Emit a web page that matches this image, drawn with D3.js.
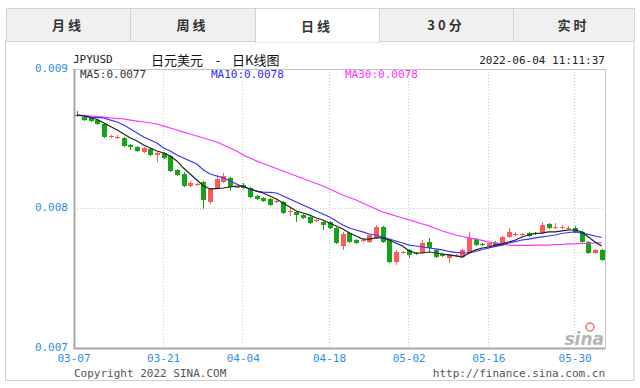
<!DOCTYPE html>
<html>
<head>
<meta charset="utf-8">
<script src="https://cdn.jsdelivr.net/npm/d3@7"></script>
<style>
body{margin:0;background:#fff;}
svg text{font-family:"DejaVu Sans Mono",monospace;}
</style>
</head>
<body>
<svg id="chart"></svg>
<script>

// tick labels
var dateLabels = ["03-07","03-21","04-04","04-18","05-02","05-16","05-30"]
var dateTickIdx = [0, 13, 25, 38, 50, 62, 75]
var priceTicks = [0.009, 0.008, 0.007]
var tabNames = ["月线","周线","日线","30分","实时"]

// daily candles, JPYUSD
var openP = [.008670,.008656,.008649,.008634,.008606,.008513,.008505,.008505,.008455,.008441,
.008405,.008427,.008384,.008398,.008376,.008276,.008247,.008161,.008168,.008190,
.008047,.008147,.008190,.008219,.008151,.008168,.008147,.008090,.008075,.008068,
.008047,.008047,.007975,.007975,.007953,.007939,.007910,.007903,.007903,.007860,
.007731,.007824,.007774,.007767,.007760,.007789,.007867,.007774,.007616,.007681,
.007703,.007681,.007681,.007760,.007703,.007674,.007645,.007660,.007652,.007681,
.007781,.007746,.007724,.007753,.007738,.007796,.007810,.007810,.007824,.007824,
.007824,.007889,.007860,.007860,.007853,.007860,.007832,.007760,.007681,.007703]

var highP = [.008699,.008663,.008656,.008642,.008613,.008527,.008527,.008513,.008462,.008448,
.008441,.008434,.008405,.008405,.008384,.008283,.008262,.008197,.008183,.008197,
.008147,.008240,.008254,.008226,.008161,.008183,.008154,.008097,.008082,.008075,
.008061,.008054,.008004,.007982,.007961,.007946,.007925,.007910,.007910,.007867,
.007832,.007832,.007781,.007781,.007817,.007882,.007875,.007781,.007703,.007695,
.007710,.007688,.007774,.007789,.007710,.007681,.007674,.007674,.007710,.007832,
.007789,.007753,.007760,.007767,.007803,.007860,.007832,.007824,.007832,.007832,
.007903,.007896,.007896,.007882,.007875,.007875,.007839,.007767,.007710,.007710]

var lowP = [.008656,.008627,.008620,.008599,.008505,.008505,.008498,.008441,.008419,.008405,
.008398,.008376,.008333,.008355,.008262,.008233,.008154,.008154,.008161,.007996,
.008032,.008140,.008183,.008125,.008147,.008140,.008075,.008061,.008047,.008018,
.008039,.007961,.007946,.007903,.007925,.007889,.007903,.007846,.007853,.007746,
.007703,.007753,.007746,.007760,.007753,.007781,.007753,.007609,.007595,.007674,
.007645,.007667,.007674,.007688,.007645,.007652,.007609,.007652,.007645,.007674,
.007731,.007731,.007717,.007724,.007731,.007789,.007803,.007803,.007796,.007810,
.007817,.007853,.007853,.007853,.007846,.007824,.007753,.007674,.007674,.007624]

var closeP = [.008663,.008634,.008627,.008606,.008513,.008520,.008513,.008448,.008441,.008412,
.008434,.008384,.008398,.008362,.008269,.008240,.008161,.008183,.008176,.008061,
.008140,.008211,.008233,.008154,.008154,.008147,.008082,.008068,.008054,.008025,
.008054,.007968,.007982,.007953,.007932,.007896,.007918,.007882,.007860,.007753,
.007817,.007760,.007753,.007774,.007810,.007867,.007760,.007616,.007688,.007688,
.007667,.007674,.007753,.007717,.007652,.007660,.007667,.007667,.007703,.007789,
.007738,.007738,.007753,.007731,.007796,.007832,.007817,.007817,.007803,.007817,
.007882,.007860,.007867,.007867,.007860,.007832,.007760,.007681,.007703,.007631]

// moving averages as shown on the chart
var ma5 = [.008670,.008663,.008652,.008638,.008613,.008588,.008563,.008534,.008505,.008484,
.008455,.008434,.008412,.008398,.008376,.008341,.008290,.008247,.008204,.008161,
.008140,.008143,.008147,.008154,.008161,.008161,.008140,.008125,.008111,.008090,
.008068,.008039,.008011,.007982,.007968,.007953,.007932,.007918,.007896,.007875,
.007853,.007824,.007803,.007781,.007781,.007789,.007789,.007774,.007753,.007731,
.007695,.007681,.007681,.007688,.007681,.007674,.007667,.007660,.007652,.007681,
.007703,.007717,.007724,.007738,.007746,.007760,.007774,.007796,.007810,.007821,
.007824,.007832,.007832,.007839,.007846,.007846,.007832,.007796,.007760,.007731]

var ma10 = [.008670,.008663,.008656,.008652,.008649,.008634,.008620,.008599,.008570,.008541,
.008513,.008491,.008470,.008434,.008412,.008384,.008362,.008341,.008319,.008276,
.008247,.008233,.008219,.008197,.008176,.008154,.008140,.008125,.008118,.008115,
.008111,.008090,.008068,.008047,.008025,.008004,.007982,.007961,.007939,.007910,
.007882,.007860,.007846,.007832,.007817,.007810,.007796,.007781,.007767,.007753,
.007738,.007731,.007724,.007717,.007710,.007703,.007692,.007685,.007681,.007681,
.007692,.007706,.007717,.007728,.007738,.007753,.007763,.007774,.007781,.007789,
.007796,.007803,.007810,.007821,.007828,.007832,.007824,.007814,.007803,.007792]

var ma30 = [.008670,.008667,.008663,.008659,.008656,.008649,.008645,.008642,.008634,.008627,
.008620,.008613,.008606,.008591,.008577,.008563,.008548,.008534,.008520,.008505,
.008491,.008477,.008455,.008434,.008412,.008384,.008362,.008341,.008323,.008305,
.008287,.008269,.008251,.008233,.008215,.008197,.008179,.008161,.008140,.008118,
.008097,.008079,.008061,.008039,.008018,.007996,.007975,.007961,.007946,.007932,
.007918,.007903,.007889,.007875,.007857,.007839,.007824,.007810,.007799,.007789,
.007781,.007771,.007760,.007753,.007746,.007738,.007735,.007735,.007735,.007738,
.007738,.007738,.007742,.007742,.007746,.007746,.007749,.007749,.007753,.007753]

var screen = {width: 640, height: 388}
var plot = {left: 74, right: 605, top: 69, bottom: 348}

var svg = d3.select("#chart")
  .attr("width", screen.width)
  .attr("height", screen.height)

// ---- frame + tabs
svg.append("rect")
  .attr("x", 5.5).attr("y", 41.5)
  .attr("width", 628.5).attr("height", 339)
  .attr("fill", "#fff").attr("stroke", "#cfcfcf")

var tabEdges = [6, 130, 255, 379, 513, 634]
var activeTab = 2

svg.selectAll("rect.tab")
  .data(tabNames)
  .enter()
  .append("rect")
  .attr("class", "tab")
  .attr("x", function(d, i){ return tabEdges[i] + 0.5 })
  .attr("y", 8.5)
  .attr("width", function(d, i){ return tabEdges[i+1] - tabEdges[i] })
  .attr("height", function(d, i){ return i == activeTab ? 34 : 33 })
  .attr("fill", function(d, i){ return i == activeTab ? "#fff" : "#f0f0f0" })
  .attr("stroke", "#d3d3d3")

// open the bottom of the active tab
svg.append("line")
  .attr("x1", tabEdges[activeTab] + 1).attr("x2", tabEdges[activeTab+1])
  .attr("y1", 41.5).attr("y2", 41.5)
  .attr("stroke", "#fff").attr("stroke-width", 2)

svg.selectAll("text.tab")
  .data(tabNames)
  .enter()
  .append("text")
  .attr("class", "tab")
  .attr("x", function(d, i){ return (tabEdges[i] + tabEdges[i+1]) / 2 })
  .attr("y", function(d, i){ return i == activeTab ? 31 : 30 })
  .attr("text-anchor", "middle")
  .style("font-family", "'Noto Sans CJK SC', sans-serif")
  .style("font-size", "13px")
  .style("font-weight", "bold")
  .style("letter-spacing", "3px")
  .attr("fill", "#333")
  .text(function(d){ return d })

// ---- scales
var idx = d3.range(openP.length)

var xScale = d3.scaleBand()
  .domain(idx)
  .range([plot.left, plot.right])

var yScale = d3.scaleLinear()
  .domain([0.007, 0.009])
  .range([plot.bottom, plot.top])

var cx = function(i){ return xScale(i) + xScale.bandwidth() / 2 }

// ---- grid
svg.selectAll("line.vgrid")
  .data(dateTickIdx.slice(1))
  .enter()
  .append("line")
  .attr("class", "vgrid")
  .attr("x1", function(d){ return Math.round(cx(d)) - 0.5 })
  .attr("x2", function(d){ return Math.round(cx(d)) - 0.5 })
  .attr("y1", plot.top).attr("y2", plot.bottom)
  .attr("stroke", "#c8c8c8")
  .attr("stroke-dasharray", "1,2")

svg.append("line")
  .attr("x1", plot.left).attr("x2", plot.right)
  .attr("y1", Math.round(yScale(0.008)) + 0.5)
  .attr("y2", Math.round(yScale(0.008)) + 0.5)
  .attr("stroke", "#c8c8c8")
  .attr("stroke-dasharray", "1,2")

// plot border
svg.append("rect")
  .attr("x", plot.left + 0.5).attr("y", plot.top + 0.5)
  .attr("width", plot.right - plot.left).attr("height", plot.bottom - plot.top)
  .attr("fill", "none").attr("stroke", "#c4c4c4")

svg.append("path")
  .attr("d", "M" + (plot.left + 0.5) + "," + plot.top + "V" + (plot.bottom + 0.5) + "H" + plot.right)
  .attr("fill", "none").attr("stroke", "#a8a8a8").attr("stroke-width", 2)

// ---- candles
var upColor = "#ff5a5a"
var downColor = "#16a316"
var bodyW = 5

var candles = svg.append("g")

candles.selectAll("line.wick")
  .data(idx)
  .enter()
  .append("line")
  .attr("class", "wick")
  .attr("x1", function(d){ return Math.round(cx(d)) + 0.5 })
  .attr("x2", function(d){ return Math.round(cx(d)) + 0.5 })
  .attr("y1", function(d){ return yScale(highP[d]) })
  .attr("y2", function(d){ return yScale(lowP[d]) })
  .attr("stroke", function(d){ return closeP[d] >= openP[d] ? upColor : downColor })

candles.selectAll("rect.body")
  .data(idx)
  .enter()
  .append("rect")
  .attr("class", "body")
  .attr("x", function(d){ return Math.round(cx(d)) + 0.5 - bodyW / 2 })
  .attr("y", function(d){ return yScale(Math.max(openP[d], closeP[d])) })
  .attr("width", bodyW)
  .attr("height", function(d){
    return Math.max(1, Math.abs(yScale(openP[d]) - yScale(closeP[d])))
  })
  .attr("fill", function(d){ return closeP[d] >= openP[d] ? upColor : downColor })

// ---- moving averages
var maLine = function(arr){
  return d3.line()
    .x(function(d){ return cx(d) })
    .y(function(d){ return yScale(arr[d]) })(idx)
}

svg.append("path").attr("d", maLine(ma30))
  .attr("fill", "none").attr("stroke", "#ff33ff").attr("stroke-width", 1.2)
svg.append("path").attr("d", maLine(ma10))
  .attr("fill", "none").attr("stroke", "#3535ff").attr("stroke-width", 1.2)
svg.append("path").attr("d", maLine(ma5))
  .attr("fill", "none").attr("stroke", "#222").attr("stroke-width", 1.2)

// ---- axes
var yAxis = d3.axisLeft(yScale)
  .tickValues(priceTicks)
  .tickFormat(d3.format(".3f"))
  .tickSize(0)
  .tickPadding(6)

var yg = svg.append("g")
  .attr("transform", "translate(" + plot.left + ",0)")
  .call(yAxis)
yg.select(".domain").remove()
yg.selectAll("text")
  .attr("dy", "0.2em")
  .style("font-family", "'DejaVu Sans Mono', monospace")
  .style("font-size", "11px")
  .attr("fill", "#2f8fe6")

var xAxis = d3.axisBottom(xScale)
  .tickValues(dateTickIdx)
  .tickFormat(function(d){ return dateLabels[dateTickIdx.indexOf(d)] })
  .tickSize(0)
  .tickPadding(6)

var xg = svg.append("g")
  .attr("transform", "translate(0," + plot.bottom + ")")
  .call(xAxis)
xg.select(".domain").remove()
xg.selectAll("text")
  .style("font-family", "'DejaVu Sans Mono', monospace")
  .style("font-size", "11px")
  .attr("fill", "#2f8fe6")
// first date sits on the left axis
xg.selectAll(".tick").filter(function(d){ return d == 0 })
  .attr("transform", "translate(" + plot.left + ",0)")

// ---- header texts
svg.append("text").attr("x", 73).attr("y", 63)
  .style("font-size", "11px").attr("fill", "#222").text("JPYUSD")

var titleParts = [
  {t: "日元美元", x: 151, a: "start"},
  {t: "-", x: 218, a: "middle"},
  {t: "日K线图", x: 232, a: "start"}
]
svg.selectAll("text.title")
  .data(titleParts)
  .enter()
  .append("text")
  .attr("class", "title")
  .attr("x", function(d){ return d.x })
  .attr("y", 65)
  .attr("text-anchor", function(d){ return d.a })
  .style("font-family", "'Noto Sans CJK SC', sans-serif")
  .style("font-size", "13px")
  .attr("fill", "#111")
  .text(function(d){ return d.t })

svg.append("text").attr("x", 605).attr("y", 64)
  .attr("text-anchor", "end")
  .style("font-size", "11px").attr("fill", "#222")
  .text("2022-06-04 11:11:37")

var maLabels = [
  {t: "MA5:" + d3.format(".4f")(ma5[ma5.length-1]), x: 80, c: "#333"},
  {t: "MA10:" + d3.format(".4f")(ma10[ma10.length-1]), x: 211, c: "#2b2bff"},
  {t: "MA30:" + d3.format(".4f")(ma30[ma30.length-1]), x: 345, c: "#ff33ff"}
]
svg.selectAll("text.ma")
  .data(maLabels)
  .enter()
  .append("text")
  .attr("class", "ma")
  .attr("x", function(d){ return d.x })
  .attr("y", 78)
  .style("font-size", "11px")
  .attr("fill", function(d){ return d.c })
  .text(function(d){ return d.t })

// ---- footer
svg.append("text").attr("x", 74).attr("y", 377)
  .style("font-size", "11px").attr("fill", "#555")
  .text("Copyright 2022 SINA.COM")

svg.append("text").attr("x", 605).attr("y", 377)
  .attr("text-anchor", "end")
  .style("font-size", "11px").attr("fill", "#555")
  .text("http://finance.sina.com.cn")

// sina watermark
svg.append("circle").attr("cx", 590).attr("cy", 327).attr("r", 4)
  .attr("fill", "none").attr("stroke", "#f07070").attr("stroke-width", 1.5)
svg.append("text").attr("x", 604).attr("y", 345)
  .attr("text-anchor", "end")
  .style("font-family", "'DejaVu Sans', sans-serif")
  .style("font-size", "17px").style("font-style", "italic").style("font-weight", "bold")
  .attr("fill", "#b4b4b4")
  .text("sina")

</script>
</body>
</html>
